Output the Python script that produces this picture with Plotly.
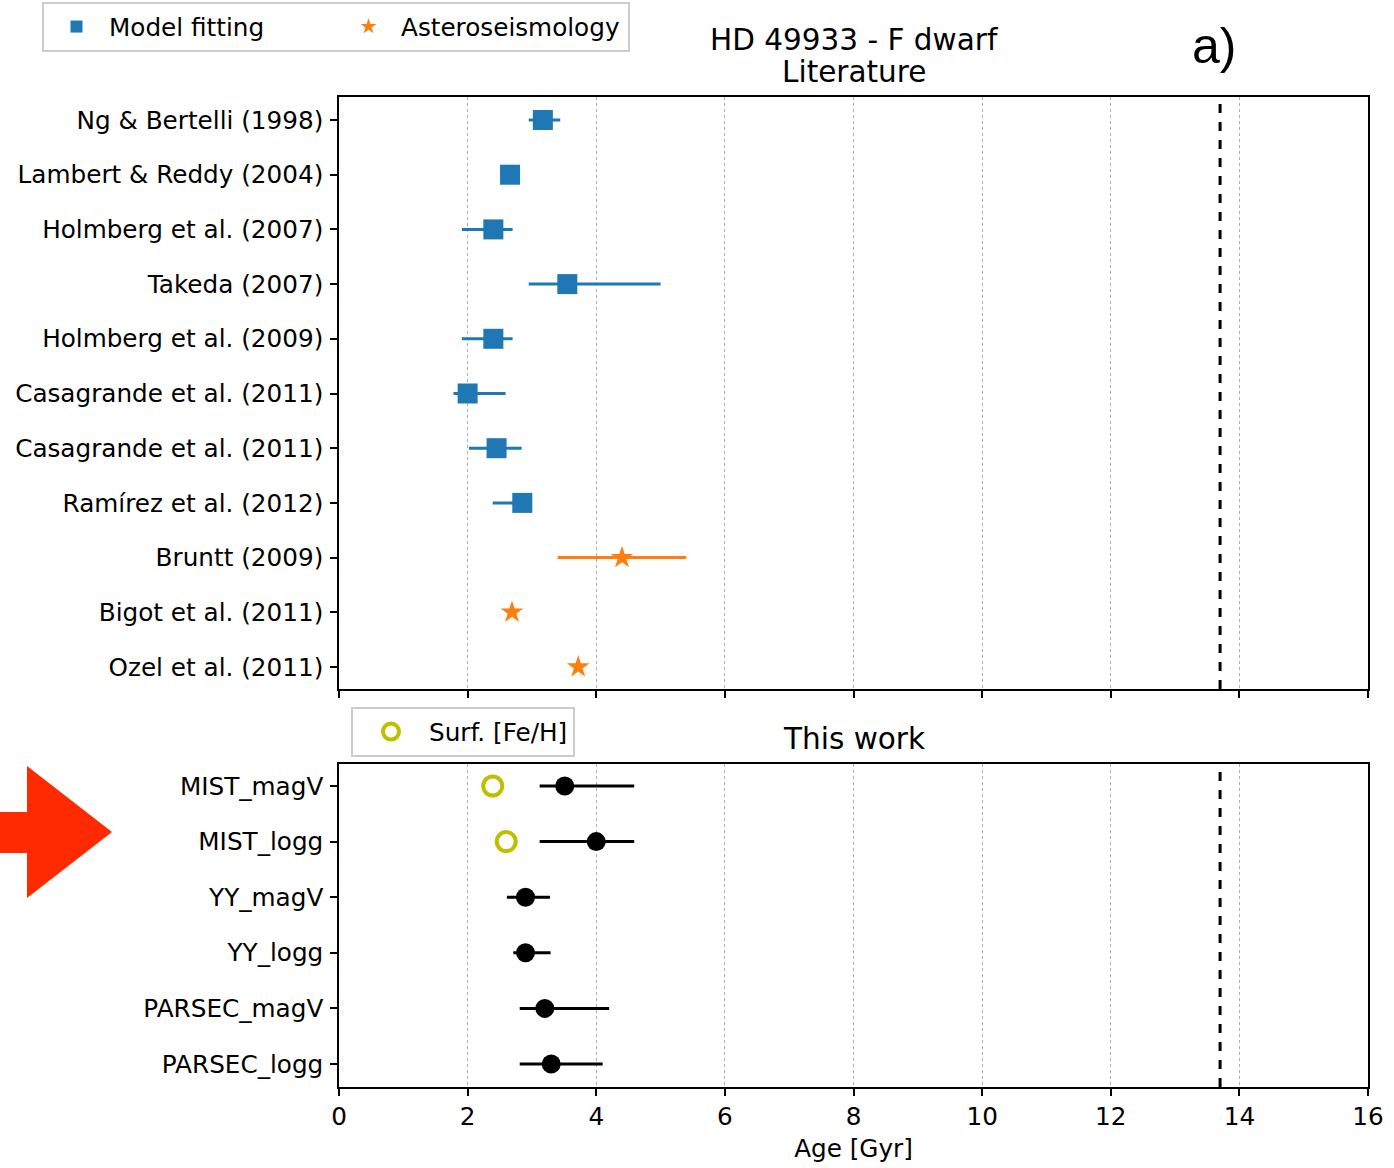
import plotly.graph_objects as go

# ---------------- data ----------------
lit_labels = ["Ng & Bertelli (1998)", "Lambert & Reddy (2004)", "Holmberg et al. (2007)",
              "Takeda (2007)", "Holmberg et al. (2009)", "Casagrande et al. (2011)",
              "Casagrande et al. (2011)", "Ramírez et al. (2012)", "Bruntt (2009)",
              "Bigot et al. (2011)", "Ozel et al. (2011)"]
lit_method = ["Model fitting"] * 8 + ["Asteroseismology"] * 3
lit_age = [3.17, 2.66, 2.40, 3.55, 2.40, 2.00, 2.45, 2.85, 4.40, 2.69, 3.72]
lit_err_lo = [0.22, 0.0, 0.49, 0.60, 0.49, 0.22, 0.43, 0.46, 1.00, 0.0, 0.0]
lit_err_hi = [0.27, 0.0, 0.30, 1.45, 0.30, 0.59, 0.39, 0.10, 1.00, 0.0, 0.0]

work_labels = ["MIST_magV", "MIST_logg", "YY_magV", "YY_logg", "PARSEC_magV", "PARSEC_logg"]
work_age = [3.51, 4.00, 2.90, 2.90, 3.20, 3.30]
work_err_lo = [0.39, 0.88, 0.29, 0.19, 0.39, 0.49]
work_err_hi = [1.08, 0.59, 0.38, 0.39, 1.00, 0.80]
surf_labels = ["MIST_magV", "MIST_logg"]
surf_age = [2.39, 2.60]

universe_age = 13.7
x_ticks = [0, 2, 4, 6, 8, 10, 12, 14, 16]

BLUE = "#1f77b4"
ORANGE = "#ff7f0e"
OLIVE = "#bfbf00"
FONT = "DejaVu Sans"
FS = 24.7
TFS = 29.5

# ---------------- layout helpers ----------------
W, H = 1394, 1168
L, R, T, B = 339, 1368, 97, 1087


def px_x(p):
    return (p - L) / (R - L)


def px_y(p):
    return (B - p) / (B - T)


fig = go.Figure()

lit_pos = list(range(len(lit_labels)))
work_pos = list(range(len(work_labels)))

for method, color, symbol, size in [("Model fitting", BLUE, "square", 20),
                                    ("Asteroseismology", ORANGE, "star", 17)]:
    idx = [i for i, m in enumerate(lit_method) if m == method]
    fig.add_trace(go.Scatter(
        x=[lit_age[i] for i in idx], y=[lit_pos[i] for i in idx],
        mode="markers", name=method, legend="legend",
        marker=dict(symbol=symbol, size=size, color=color, line=dict(width=0)),
        error_x=dict(type="data", symmetric=False,
                     array=[lit_err_hi[i] for i in idx],
                     arrayminus=[lit_err_lo[i] for i in idx],
                     color=color, thickness=3, width=0),
        xaxis="x", yaxis="y"))

fig.add_trace(go.Scatter(
    x=work_age, y=work_pos, mode="markers", showlegend=False,
    marker=dict(symbol="circle", size=19, color="black"),
    error_x=dict(type="data", symmetric=False, array=work_err_hi, arrayminus=work_err_lo,
                 color="black", thickness=3, width=0),
    xaxis="x2", yaxis="y2"))

fig.add_trace(go.Scatter(
    x=surf_age, y=[work_labels.index(s) for s in surf_labels], mode="markers",
    name="Surf. [Fe/H]", legend="legend2",
    marker=dict(symbol="circle-open", size=19, color=OLIVE, line=dict(width=4, color=OLIVE)),
    xaxis="x2", yaxis="y2"))

axis_common = dict(showline=True, linecolor="black", linewidth=1.5, mirror=True,
                   ticks="outside", ticklen=7, tickwidth=1.5, tickcolor="black",
                   zeroline=False, tickfont=dict(family=FONT, size=FS, color="black"))

top_dom = [px_y(689), 1.0]
bot_dom = [0.0, px_y(764)]

fig.update_layout(
    width=W, height=H,
    margin=dict(l=L, r=W - R, t=T, b=H - B, autoexpand=False),
    paper_bgcolor="white", plot_bgcolor="white",
    font=dict(family=FONT, size=FS, color="black"),
    xaxis=dict(domain=[0, 1], anchor="y", range=[0, 16], tickvals=x_ticks,
               showticklabels=False, showgrid=True, gridcolor="#b0b0b0",
               griddash="dot", gridwidth=1, **axis_common),
    yaxis=dict(domain=top_dom, anchor="x", range=[10 + 22 / 54.7, -23 / 54.7],
               tickvals=lit_pos, ticktext=lit_labels, showgrid=False,
               ticklabelstandoff=2, **axis_common),
    xaxis2=dict(domain=[0, 1], anchor="y2", range=[0, 16], tickvals=x_ticks,
                showgrid=True, gridcolor="#b0b0b0", griddash="dot", gridwidth=1,
                title=dict(text="Age [Gyr]", font=dict(family=FONT, size=FS), standoff=9),
                **axis_common),
    yaxis2=dict(domain=bot_dom, anchor="x2", range=[5 + 23 / 55.6, -22 / 55.6],
                tickvals=work_pos, ticktext=work_labels, showgrid=False,
                ticklabelstandoff=2, **axis_common),
    legend=dict(orientation="h", x=px_x(42), y=px_y(2), xanchor="left", yanchor="top",
                bordercolor="#cccccc", borderwidth=2, bgcolor="white",
                font=dict(family=FONT, size=FS), entrywidth=222, entrywidthmode="pixels",
                itemwidth=55, itemsizing="constant"),
    legend2=dict(orientation="h", x=px_x(351), y=px_y(707), xanchor="left", yanchor="top",
                 bordercolor="#cccccc", borderwidth=2, bgcolor="white",
                 font=dict(family=FONT, size=FS), itemwidth=66, itemsizing="trace"),
    showlegend=True,
)

# dashed vertical line (age of the universe) in both panels
for xr, yr in [("x", "y domain"), ("x2", "y2 domain")]:
    fig.add_shape(type="line", xref=xr, yref=yr, x0=universe_age, x1=universe_age,
                  y0=0, y1=1, line=dict(color="black", width=3, dash="dash"), layer="above")

# titles
for txt, ypx in [("HD 49933 - F dwarf", 40), ("Literature", 72), ("This work", 739)]:
    fig.add_annotation(text=txt, xref="paper", yref="paper",
                       x=0.5, y=px_y(ypx), xanchor="center", yanchor="middle", showarrow=False,
                       font=dict(family=FONT, size=TFS, color="black"))
fig.add_annotation(text="a)", xref="paper", yref="paper",
                   x=px_x(1214), y=px_y(46), xanchor="center", yanchor="middle", showarrow=False,
                   font=dict(family="Liberation Sans", size=50, color="black"))

# red arrow pointer
arrow_px = [(-2, 812), (27, 812), (27, 766), (112, 832), (27, 898), (27, 853), (-2, 853)]
path = "M " + " L ".join(f"{px_x(a):.4f},{px_y(b):.4f}" for a, b in arrow_px) + " Z"
fig.add_shape(type="path", xref="paper", yref="paper", path=path,
              fillcolor="#ff2a00", line=dict(width=0))

fig.write_html("out.html")
